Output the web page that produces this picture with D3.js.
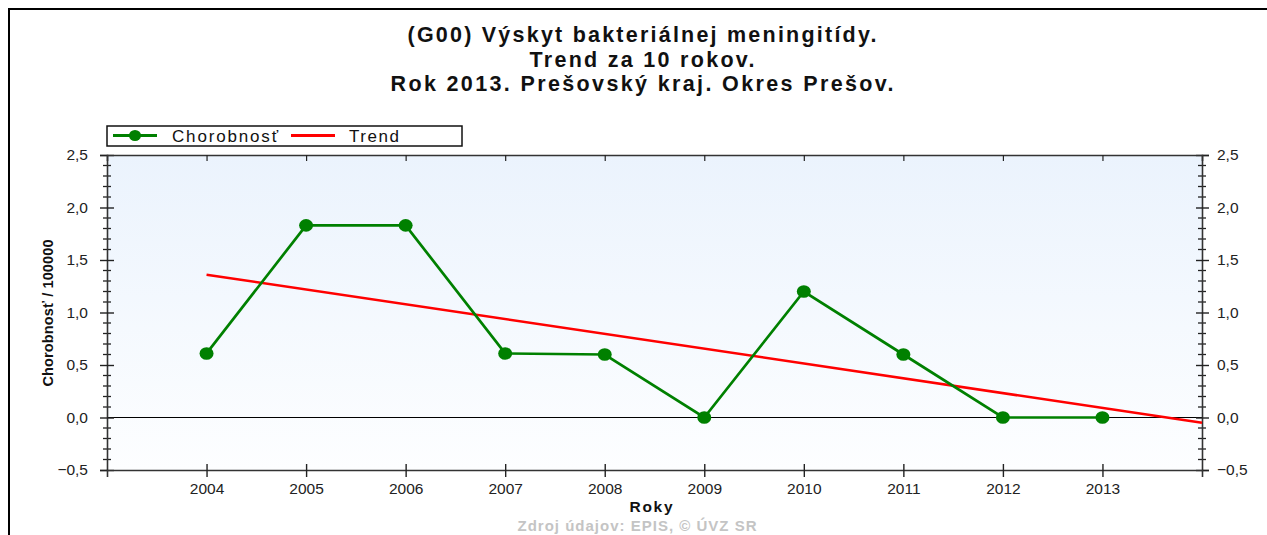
<!DOCTYPE html>
<html>
<head>
<meta charset="utf-8">
<script src="https://cdn.jsdelivr.net/npm/d3@7"></script>
<style>
  body { margin: 0; background: #fff; }
  svg { display: block; font-family: "Liberation Sans", Arial, sans-serif; }
</style>
</head>
<body>
<div id="chart"></div>
<script>
// data
var years = [2004, 2005, 2006, 2007, 2008, 2009, 2010, 2011, 2012, 2013];
var incidence = [0.61, 1.83, 1.83, 0.61, 0.60, 0, 1.20, 0.60, 0, 0];
var trendYears = [2004, 2014];
var trendValues = [1.36, -0.05];
var yMajor = [-0.5, 0, 0.5, 1.0, 1.5, 2.0, 2.5];
var titleLines = ["(G00) Výskyt bakteriálnej meningitídy.", "Trend za 10 rokov.", "Rok 2013. Prešovský kraj. Okres Prešov."];
var legendLabels = ["Chorobnosť", "Trend"];

var w = 1267, h = 535;
var pLeft = 107, pRight = 1202, pTop = 155, pBottom = 470;

var svg = d3.select("#chart").append("svg")
  .attr("width", w)
  .attr("height", h);

var defs = svg.append("defs");
var grad = defs.append("linearGradient")
  .attr("id", "bg")
  .attr("x1", 0).attr("y1", 0).attr("x2", 0).attr("y2", 1);
grad.append("stop").attr("offset", "0%").attr("stop-color", "#ebf3fd");
grad.append("stop").attr("offset", "100%").attr("stop-color", "#fdfeff");

// outer frame (only top and left visible)
svg.append("line").attr("x1", 8).attr("x2", w).attr("y1", 9).attr("y2", 9)
  .attr("stroke", "#000").attr("stroke-width", 2);
svg.append("line").attr("x1", 9).attr("x2", 9).attr("y1", 8).attr("y2", h)
  .attr("stroke", "#000").attr("stroke-width", 2);

var x = d3.scaleLinear().domain([2003, 2014]).range([pLeft, pRight]);
var y = d3.scaleLinear().domain([-0.5, 2.5]).range([pBottom, pTop]);
var fmt = function(d){ return d3.format(".1f")(d).replace(".", ","); };

// plot background
svg.append("rect")
  .attr("x", pLeft).attr("y", pTop)
  .attr("width", pRight - pLeft).attr("height", pBottom - pTop)
  .attr("fill", "url(#bg)");

// title
svg.append("g").selectAll("text")
  .data(titleLines)
  .enter().append("text")
    .attr("x", 642)
    .attr("y", function(d, i){ return 42 + i * 24.5; })
    .attr("text-anchor", "middle")
    .attr("font-size", 21.5)
    .attr("font-weight", "bold")
    .attr("fill", "#111")
    .attr("textLength", function(d, i){ return [469, 225, 503][i]; })
    .attr("lengthAdjust", "spacing")
    .text(function(d){ return d; });

// zero line
svg.append("line")
  .attr("x1", pLeft).attr("x2", pRight)
  .attr("y1", y(0)).attr("y2", y(0))
  .attr("stroke", "#000").attr("stroke-width", 1.2);

// minor y ticks
var minor = y.ticks(30).filter(function(d){ return yMajor.indexOf(+d.toFixed(1)) < 0; });
[pLeft, pRight].forEach(function(ax){
  svg.append("g").selectAll("line")
    .data(minor)
    .enter().append("line")
      .attr("x1", ax - 4).attr("x2", ax + 4)
      .attr("y1", function(d){ return y(d); })
      .attr("y2", function(d){ return y(d); })
      .attr("stroke", "#222").attr("stroke-width", 1.3);
});

// left axis
var gl = svg.append("g")
  .attr("transform", "translate(" + pLeft + ",0)")
  .call(d3.axisLeft(y).tickValues(yMajor).tickFormat(fmt).tickSize(7).tickPadding(12));
gl.selectAll(".tick line").attr("x1", 7);
// right axis
var gr = svg.append("g")
  .attr("transform", "translate(" + pRight + ",0)")
  .call(d3.axisRight(y).tickValues(yMajor).tickFormat(fmt).tickSize(7).tickPadding(8));
gr.selectAll(".tick line").attr("x1", -6).attr("x2", 7);
// bottom axis
var gb = svg.append("g")
  .attr("transform", "translate(0," + pBottom + ")")
  .call(d3.axisBottom(x).tickValues(years).tickFormat(d3.format("d")).tickSize(7).tickPadding(6));
gb.selectAll(".tick line").attr("y1", -6);
// top axis (ticks only)
var gt = svg.append("g")
  .attr("transform", "translate(0," + pTop + ")")
  .call(d3.axisTop(x).tickValues(years).tickFormat("").tickSize(-6));

[gl, gr, gb, gt].forEach(function(g){
  g.select(".domain").attr("stroke", "#333").attr("stroke-width", 1.6);
  g.selectAll(".tick line").attr("stroke", "#222").attr("stroke-width", 1.4);
  g.selectAll(".tick text")
    .attr("font-family", "Liberation Sans, Arial, sans-serif")
    .attr("font-size", 15.5)
    .attr("fill", "#222");
});
gt.selectAll(".tick line").attr("stroke-width", 1.2);

// axis titles
svg.append("text")
  .attr("transform", "translate(53,313) rotate(-90)")
  .attr("text-anchor", "middle")
  .attr("font-size", 14.5)
  .attr("font-weight", "bold")
  .attr("fill", "#111")
  .attr("textLength", 147)
  .attr("lengthAdjust", "spacing")
  .text("Chorobnosť / 100000");

svg.append("text")
  .attr("x", 651).attr("y", 512)
  .attr("text-anchor", "middle")
  .attr("font-size", 15.5)
  .attr("font-weight", "bold")
  .attr("fill", "#111")
  .attr("textLength", 43)
  .attr("lengthAdjust", "spacing")
  .text("Roky");

svg.append("text")
  .attr("x", 637).attr("y", 531)
  .attr("text-anchor", "middle")
  .attr("font-size", 15)
  .attr("font-weight", "bold")
  .attr("fill", "#c4c4c4")
  .attr("textLength", 239)
  .attr("lengthAdjust", "spacing")
  .text("Zdroj údajov: EPIS, © ÚVZ SR");

// trend line
svg.append("path")
  .datum(trendYears.map(function(d, i){ return [d, trendValues[i]]; }))
  .attr("fill", "none")
  .attr("stroke", "#ff0000")
  .attr("stroke-width", 2.5)
  .attr("d", d3.line().x(function(d){ return x(d[0]); }).y(function(d){ return y(d[1]); }));

// incidence line and markers
var pts = years.map(function(d, i){ return [d, incidence[i]]; });
svg.append("path")
  .datum(pts)
  .attr("fill", "none")
  .attr("stroke", "#008000")
  .attr("stroke-width", 2.7)
  .attr("d", d3.line().x(function(d){ return x(d[0]); }).y(function(d){ return y(d[1]); }));
svg.append("g").selectAll("ellipse")
  .data(pts)
  .enter().append("ellipse")
    .attr("cx", function(d){ return x(d[0]); })
    .attr("cy", function(d){ return y(d[1]); })
    .attr("rx", 7).attr("ry", 6.3)
    .attr("fill", "#008000");

// legend
var lg = svg.append("g");
lg.append("rect")
  .attr("x", 107).attr("y", 126)
  .attr("width", 355).attr("height", 20)
  .attr("fill", "#fff")
  .attr("stroke", "#111").attr("stroke-width", 1.5);
lg.append("line").attr("x1", 113).attr("x2", 157).attr("y1", 135.5).attr("y2", 135.5)
  .attr("stroke", "#008000").attr("stroke-width", 3);
lg.append("ellipse").attr("cx", 135).attr("cy", 135.5).attr("rx", 6).attr("ry", 5.5)
  .attr("fill", "#008000");
lg.append("line").attr("x1", 291).attr("x2", 335).attr("y1", 135.5).attr("y2", 135.5)
  .attr("stroke", "#ff0000").attr("stroke-width", 3);
lg.selectAll("text")
  .data(legendLabels)
  .enter().append("text")
    .attr("x", function(d, i){ return [172, 349][i]; })
    .attr("y", 141.5)
    .attr("font-size", 17)
    .attr("fill", "#111")
    .attr("textLength", function(d, i){ return [106, 50][i]; })
    .attr("lengthAdjust", "spacing")
    .text(function(d){ return d; });
</script>
</body>
</html>
